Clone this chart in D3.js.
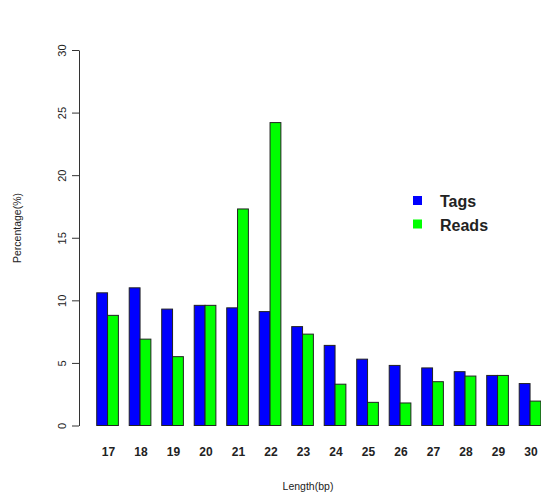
<!DOCTYPE html>
<html>
<head>
<meta charset="utf-8">
<script src="https://cdn.jsdelivr.net/npm/d3@7"></script>
<style>
  html, body { margin: 0; padding: 0; background: #fff; }
  svg { display: block; font-family: "Liberation Sans", Arial, sans-serif; }
</style>
</head>
<body>
<svg id="chart" width="541" height="495"></svg>
<script>
// Read-length distribution of small RNA tags and reads
const lengths = ["17","18","19","20","21","22","23","24","25","26","27","28","29","30"];
const tags    = [10.6, 11.0, 9.3, 9.6, 9.4, 9.1, 7.9, 6.4, 5.3, 4.8, 4.6, 4.3, 4.0, 3.35];
const reads   = [8.8, 6.9, 5.5, 9.6, 17.3, 24.2, 7.3, 3.3, 1.85, 1.8, 3.5, 3.95, 4.0, 1.95];
const seriesNames = ["Tags", "Reads"];
const seriesColors = ["#0000ff", "#00ff00"];
const yTicks = [0, 5, 10, 15, 20, 25, 30];

const svg = d3.select("#chart");

const y = d3.scaleLinear().domain([0, 30]).range([425.5, 50]);

// Grouped bars: each group is two adjacent bars followed by a gap one bar wide
const x = d3.scaleBand()
  .domain(lengths)
  .range([91.3, 546.3])
  .paddingInner(1 / 3)
  .paddingOuter(1 / 6);

const xs = d3.scaleBand()
  .domain(seriesNames)
  .range([0, x.bandwidth()]);

const rows = lengths.map((len, i) => ({ len, values: [tags[i], reads[i]] }));

const groups = svg.append("g")
  .selectAll("g")
  .data(rows)
  .join("g")
  .attr("transform", d => `translate(${x(d.len)},0)`);

groups.selectAll("rect")
  .data(d => d.values.map((v, k) => ({ v, k })))
  .join("rect")
  .attr("x", d => xs(seriesNames[d.k]))
  .attr("y", d => y(d.v))
  .attr("width", xs.bandwidth())
  .attr("height", d => y(0) - y(d.v))
  .attr("fill", d => seriesColors[d.k])
  .attr("stroke", "#222")
  .attr("stroke-width", 1);

// y axis
const yAxis = svg.append("g")
  .attr("transform", "translate(79,0)")
  .call(d3.axisLeft(y).tickValues(yTicks).tickSize(7).tickSizeOuter(0));
yAxis.select(".domain").attr("stroke", "#333");
yAxis.selectAll(".tick line").attr("stroke", "#333");
yAxis.selectAll(".tick text")
  .attr("x", null).attr("dy", null)
  .attr("transform", "translate(-13,0) rotate(-90)")
  .attr("text-anchor", "middle")
  .attr("font-size", 11)
  .attr("fill", "#222")
  .attr("font-family", "Liberation Sans, Arial, sans-serif");

// x category labels (no axis line)
svg.append("g")
  .selectAll("text")
  .data(lengths)
  .join("text")
  .attr("x", d => x(d) + x.bandwidth() / 2 + 1)
  .attr("y", 456)
  .attr("text-anchor", "middle")
  .attr("font-size", 12)
  .attr("font-weight", "bold")
  .attr("fill", "#222")
  .text(d => d);

// axis titles
svg.append("text")
  .attr("x", 308).attr("y", 490)
  .attr("text-anchor", "middle")
  .attr("font-size", 10.5)
  .attr("fill", "#222")
  .text("Length(bp)");

svg.append("text")
  .attr("transform", "translate(21,228) rotate(-90)")
  .attr("text-anchor", "middle")
  .attr("font-size", 10.5)
  .attr("fill", "#222")
  .text("Percentage(%)");

// legend
const legend = svg.append("g").attr("transform", "translate(413,196)");
const items = legend.selectAll("g")
  .data(seriesNames)
  .join("g")
  .attr("transform", (d, i) => `translate(0,${i * 23.5})`);
items.append("rect")
  .attr("width", 9).attr("height", 9)
  .attr("fill", (d, i) => seriesColors[i]);
items.append("text")
  .attr("x", 27).attr("y", 11)
  .attr("font-size", 16)
  .attr("font-weight", "bold")
  .attr("fill", "#222")
  .text(d => d);
</script>
</body>
</html>
